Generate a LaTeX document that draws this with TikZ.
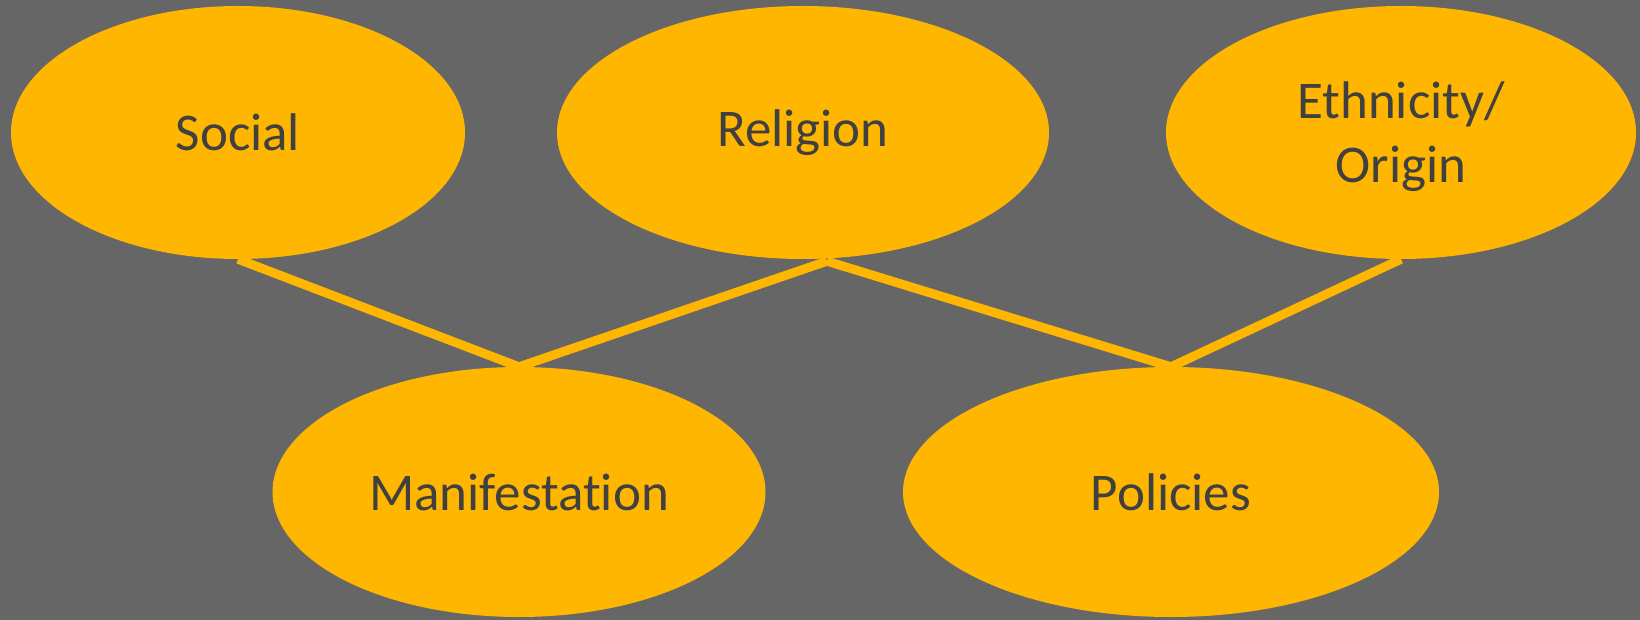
\documentclass[tikz,border=0pt]{standalone}
\usepackage{fontspec}
\setmainfont[RawFeature={-liga;-clig}]{Carlito}
\usetikzlibrary{shapes.geometric,calc}
\definecolor{bggray}{HTML}{666666}
\definecolor{gold}{HTML}{FFB600}
\definecolor{txt}{HTML}{404040}
\tikzset{
  bubble/.style={ellipse, fill=gold, inner sep=0pt, text=txt, align=center,
    font=\fontsize{53}{64}\selectfont},
  link/.style={draw=gold, line width=9pt}
}
\begin{document}
\begin{tikzpicture}[x=1pt,y=-1pt]
\fill[bggray] (0,0) rectangle (1640,620);
\useasboundingbox (0,0) rectangle (1640,620);
\node[bubble, minimum width=454pt, minimum height=253pt] (soc) at (238,132.5) {Social};
\node[bubble, minimum width=492pt, minimum height=253pt] (rel) at (803,132.5) {Religion};
\node[bubble, minimum width=470pt, minimum height=253pt] (eth) at (1401,132.5) {};
\node[text=txt, align=center, font=\fontsize{53}{64}\selectfont] (ethtext) at (1401,137) {Ethnicity/\\Origin};
\node[bubble, minimum width=493pt, minimum height=250pt] (man) at (519,492) {Manifestation};
\node[bubble, minimum width=536pt, minimum height=250pt] (pol) at (1171,492) {Policies};
\coordinate (rj) at ($(rel.south)+(24,2)$);
\draw[link] (soc.south) -- (man.north);
\draw[link] (rj) -- (man.north);
\draw[link] (rj) -- (pol.north);
\draw[link] (eth.south) -- (pol.north);
\end{tikzpicture}
\end{document}
